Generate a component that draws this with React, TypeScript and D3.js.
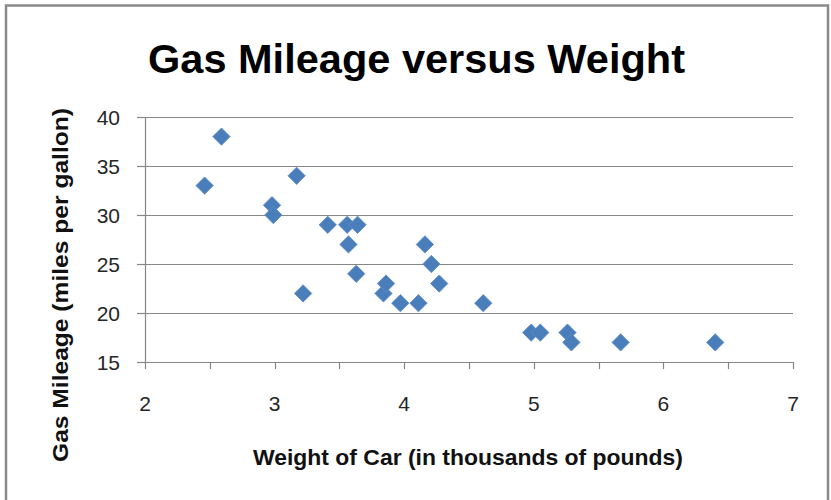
import React, { useEffect, useRef } from "react";
import * as d3 from "d3";

// car weight (thousands of pounds) and gas mileage (mpg)
const weights = [
  2.46, 2.59, 2.98, 2.99, 3.17, 3.22, 3.41, 3.56, 3.57, 3.64, 3.63, 3.84, 3.86,
  3.97, 4.11, 4.16, 4.21, 4.27, 4.61, 4.98, 5.05, 5.26, 5.29, 5.67, 6.4,
];
const mileages = [
  33, 38, 31, 30, 34, 22, 29, 29, 27, 29, 24, 22, 23, 21, 21, 27, 25, 23, 21,
  18, 18, 18, 17, 17, 17,
];
const xTicks = [2, 3, 4, 5, 6, 7];
const xMinorTicks = [2, 2.5, 3, 3.5, 4, 4.5, 5, 5.5, 6, 6.5, 7];
const yTicks = [15, 20, 25, 30, 35, 40];

const W = 831;
const H = 500;

const App = () => {
  const ref = useRef<SVGSVGElement>(null);

  useEffect(() => {
    const svg = d3.select(ref.current);
    svg.selectAll("*").remove();

    const margin = { top: 117, right: 38, bottom: 138, left: 145 };
    const x = d3.scaleLinear().domain([2, 7]).range([margin.left, W - margin.right]);
    const y = d3.scaleLinear().domain([15, 40]).range([H - margin.bottom, margin.top]);
    const axisColor = "#868686";

    // outer frame
    svg.append("rect")
      .attr("x", 6).attr("y", 5.5)
      .attr("width", 822).attr("height", 520)
      .attr("fill", "white")
      .attr("stroke", "#8a8a8a")
      .attr("stroke-width", 2.5);

    // horizontal gridlines
    svg.append("g")
      .selectAll("line")
      .data(yTicks)
      .enter()
      .append("line")
        .attr("x1", x(2)).attr("x2", x(7))
        .attr("y1", (d) => Math.round(y(d)) + 0.5)
        .attr("y2", (d) => Math.round(y(d)) + 0.5)
        .attr("stroke", axisColor)
        .attr("stroke-width", 1.2);

    // y axis
    svg.append("line")
      .attr("x1", x(2) + 0.5).attr("x2", x(2) + 0.5)
      .attr("y1", y(40)).attr("y2", y(15))
      .attr("stroke", axisColor).attr("stroke-width", 1.2);
    svg.append("g")
      .selectAll("line")
      .data(yTicks)
      .enter()
      .append("line")
        .attr("x1", x(2) - 8).attr("x2", x(2))
        .attr("y1", (d) => Math.round(y(d)) + 0.5)
        .attr("y2", (d) => Math.round(y(d)) + 0.5)
        .attr("stroke", axisColor).attr("stroke-width", 1.2);
    svg.append("g")
      .selectAll("text")
      .data(yTicks)
      .enter()
      .append("text")
        .attr("x", 120)
        .attr("y", (d) => y(d) + 7.5)
        .attr("text-anchor", "end")
        .style("font-family", "'Liberation Sans', Arial, sans-serif")
        .style("font-size", "21px")
        .attr("fill", "#262626")
        .text((d) => d);

    // x axis ticks
    svg.append("g")
      .selectAll("line")
      .data(xMinorTicks)
      .enter()
      .append("line")
        .attr("x1", (d) => Math.round(x(d)) + 0.5)
        .attr("x2", (d) => Math.round(x(d)) + 0.5)
        .attr("y1", y(15)).attr("y2", y(15) + 7)
        .attr("stroke", axisColor).attr("stroke-width", 1.2);
    svg.append("g")
      .selectAll("text")
      .data(xTicks)
      .enter()
      .append("text")
        .attr("x", (d) => x(d))
        .attr("y", 411)
        .attr("text-anchor", "middle")
        .style("font-family", "'Liberation Sans', Arial, sans-serif")
        .style("font-size", "21px")
        .attr("fill", "#262626")
        .text((d) => d);

    // points (diamonds)
    const diamond = d3.symbol().type(d3.symbolSquare).size(150);
    svg.append("g")
      .selectAll("path")
      .data(weights.map((w, i) => ({ w, m: mileages[i] })))
      .enter()
      .append("path")
        .attr("d", diamond)
        .attr("transform", (d) => `translate(${x(d.w)},${y(d.m)}) rotate(45)`)
        .attr("fill", "#4A7EBB")
        .attr("stroke", "#5d8cc6")
        .attr("stroke-width", 0.8);

    // title
    svg.append("text")
      .attr("x", 416.5).attr("y", 73)
      .attr("text-anchor", "middle")
      .attr("textLength", 537)
      .attr("lengthAdjust", "spacingAndGlyphs")
      .style("font-family", "'Liberation Sans', Arial, sans-serif")
      .style("font-weight", "bold")
      .style("font-size", "41px")
      .attr("fill", "#000")
      .text("Gas Mileage versus Weight");

    // x label
    svg.append("text")
      .attr("x", 468).attr("y", 465)
      .attr("text-anchor", "middle")
      .attr("textLength", 430)
      .attr("lengthAdjust", "spacingAndGlyphs")
      .style("font-family", "'Liberation Sans', Arial, sans-serif")
      .style("font-weight", "bold")
      .style("font-size", "22px")
      .attr("fill", "#111")
      .text("Weight of Car (in thousands  of pounds)");

    // y label
    svg.append("text")
      .attr("transform", "translate(68,285) rotate(-90)")
      .attr("text-anchor", "middle")
      .attr("textLength", 354)
      .attr("lengthAdjust", "spacingAndGlyphs")
      .style("font-family", "'Liberation Sans', Arial, sans-serif")
      .style("font-weight", "bold")
      .style("font-size", "22px")
      .attr("fill", "#111")
      .text("Gas Mileage (miles per gallon)");
  }, []);

  return (
    <svg
      ref={ref}
      width={W}
      height={H}
      style={{ position: "absolute", left: 0, top: 0, background: "white" }}
    />
  );
};

export default App;
